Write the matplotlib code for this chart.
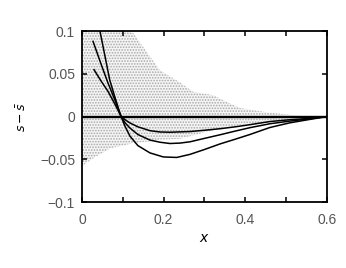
import matplotlib
matplotlib.use("Agg")
import matplotlib.pyplot as plt
import numpy as np

# shaded band (stippled)
band_x = [0.0, 0.03, 0.07, 0.1, 0.125, 0.167, 0.191, 0.24, 0.272, 0.321, 0.355, 0.387, 0.453, 0.51, 0.55]
band_hi = [0.1, 0.1, 0.1, 0.1, 0.098, 0.070, 0.054, 0.040, 0.029, 0.025, 0.017, 0.010, 0.005, 0.002, 0.0]
band_lo = [-0.058, -0.048, -0.037, -0.034, -0.031, -0.029, -0.027, -0.026, -0.022, -0.016, -0.012, -0.010, -0.007, -0.004, 0.0]

# curves
xa = [0.040, 0.044, 0.0556, 0.0678, 0.080, 0.095, 0.105, 0.1176, 0.137, 0.1665, 0.199, 0.232, 0.2645,
      0.30, 0.338, 0.375, 0.411, 0.460, 0.509, 0.558, 0.6]
ya = [0.106, 0.1, 0.0723, 0.0430, 0.0236, 0.001, -0.011, -0.023, -0.034, -0.0425, -0.0472, -0.0478, -0.0442,
      -0.0385, -0.032, -0.0265, -0.021, -0.0128, -0.0073, -0.0033, 0.0]
xb = [0.027, 0.0473, 0.0637, 0.080, 0.095, 0.105, 0.1176, 0.137, 0.1665, 0.191, 0.2155, 0.24, 0.2645,
      0.30, 0.338, 0.375, 0.411, 0.460, 0.509, 0.558, 0.6]
yb = [0.088, 0.0606, 0.0392, 0.0200, 0.001, -0.007, -0.0135, -0.021, -0.0275, -0.030, -0.0315, -0.031, -0.0295,
      -0.0255, -0.0213, -0.017, -0.013, -0.0084, -0.0053, -0.0026, 0.0]
xc = [0.0294, 0.0473, 0.0637, 0.080, 0.095, 0.105, 0.1176, 0.137, 0.1665, 0.191, 0.2155, 0.2645,
      0.30, 0.338, 0.375, 0.411, 0.460, 0.509, 0.558, 0.6]
yc = [0.0548, 0.0412, 0.0295, 0.0151, 0.001, -0.0035, -0.0075, -0.012, -0.0165, -0.0180, -0.0183, -0.0175,
      -0.016, -0.0142, -0.012, -0.0095, -0.0058, -0.0037, -0.0021, 0.0]

xticks = [0, 0.2, 0.4, 0.6]
xtick_labels = ["0", "0.2", "0.4", "0.6"]
xminor = [0.1, 0.3, 0.5]
yticks = [-0.1, -0.05, 0, 0.05, 0.1]
ytick_labels = ["\u22120.1", "\u22120.05", "0", "0.05", "0.1"]

plt.rcParams['hatch.linewidth'] = 0.8

fig = plt.figure(figsize=(3.46, 2.68), dpi=100)
ax = fig.add_axes([0.237, 0.246, 0.708, 0.638])

ax.fill_between(band_x, band_lo, band_hi, facecolor='#f5f5f5', edgecolor='#a8a8a8',
                hatch='......', linewidth=0)
ax.axhline(0, color='black', lw=1.7, zorder=3)
for x, y in [(xa, ya), (xb, yb), (xc, yc)]:
    ax.plot(x, y, color='black', lw=1.1, zorder=4, solid_joinstyle='round')

ax.set_xlim(0, 0.6)
ax.set_ylim(-0.1, 0.1)
ax.set_xticks(xticks)
ax.set_xticklabels(xtick_labels)
ax.set_xticks(xminor, minor=True)
ax.set_yticks(yticks)
ax.set_yticklabels(ytick_labels)
ax.tick_params(which='both', direction='in', top=True, right=True, length=3.5, width=1.1)
ax.tick_params(axis='y', pad=5)
ax.tick_params(axis='x', pad=8)
for lab in ax.get_xticklabels() + ax.get_yticklabels():
    lab.set_fontfamily('Liberation Sans')
    lab.set_fontsize(10)
    lab.set_color('#555555')
for s in ax.spines.values():
    s.set_linewidth(1.3)
ax.set_xlabel(r'$x$', fontsize=10, labelpad=3)
ax.set_ylabel(r'$s-\bar{s}$', fontsize=9)
ax.yaxis.set_label_coords(-0.215, 0.5)

fig.savefig('out.png', dpi=100)
